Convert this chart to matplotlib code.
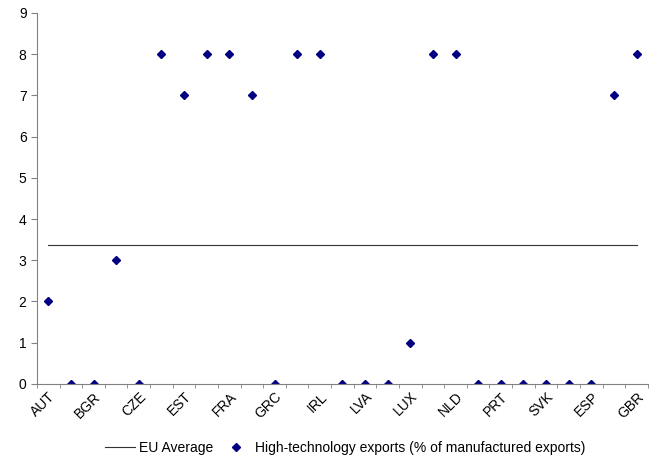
import matplotlib.pyplot as plt
import numpy as np

plt.rcParams['font.family'] = ['Liberation Sans', 'DejaVu Sans']

countries = ['AUT', 'BEL', 'BGR', 'CYP', 'CZE', 'DNK', 'EST', 'FIN', 'FRA', 'DEU',
             'GRC', 'HUN', 'IRL', 'ITA', 'LVA', 'LTU', 'LUX', 'MLT', 'NLD', 'POL',
             'PRT', 'ROU', 'SVK', 'SVN', 'ESP', 'SWE', 'GBR']
hightech = [2, 0, 0, 3, 0, 8, 7, 8, 8, 7,
            0, 8, 8, 0, 0, 0, 1, 8, 8, 0,
            0, 0, 0, 0, 0, 7, 8]
eu_average = 3.37

fig = plt.figure(figsize=(6.64, 4.62), dpi=100)
ax = fig.add_axes([0.0557, 0.169, 0.92, 0.803])

x = np.arange(len(countries))
ax.plot(x, [eu_average] * len(x), color='#333333', lw=0.8, label='EU Average')
ax.plot(x, hightech, linestyle='none', marker='D', ms=4.5, color='#000080',
        label='High-technology exports (% of manufactured exports)')

ax.set_xlim(-0.5, len(countries) - 0.5)
ax.set_ylim(0, 9)
ax.set_yticks(range(10))

# tick marks at category boundaries, labels every other category
ax.set_xticks(np.arange(-0.5, len(countries)), minor=True)
ax.set_xticks(x[::2])
ax.set_xticklabels(countries[::2], rotation=45, ha='right', rotation_mode='anchor')
ax.tick_params(axis='x', which='major', length=0, pad=4)
ax.tick_params(axis='x', which='minor', length=3, color='#808080')
ax.tick_params(axis='y', length=4, color='#808080')
ax.tick_params(labelsize=10)

for s in ['top', 'right']:
    ax.spines[s].set_visible(False)
for s in ['left', 'bottom']:
    ax.spines[s].set_color('#808080')

fig.legend(loc='lower center', bbox_to_anchor=(0.52, -0.012), ncol=2, frameon=False,
           fontsize=10, handlelength=2.2, handletextpad=0.3, columnspacing=0.5)

fig.savefig('out.png', dpi=100)
